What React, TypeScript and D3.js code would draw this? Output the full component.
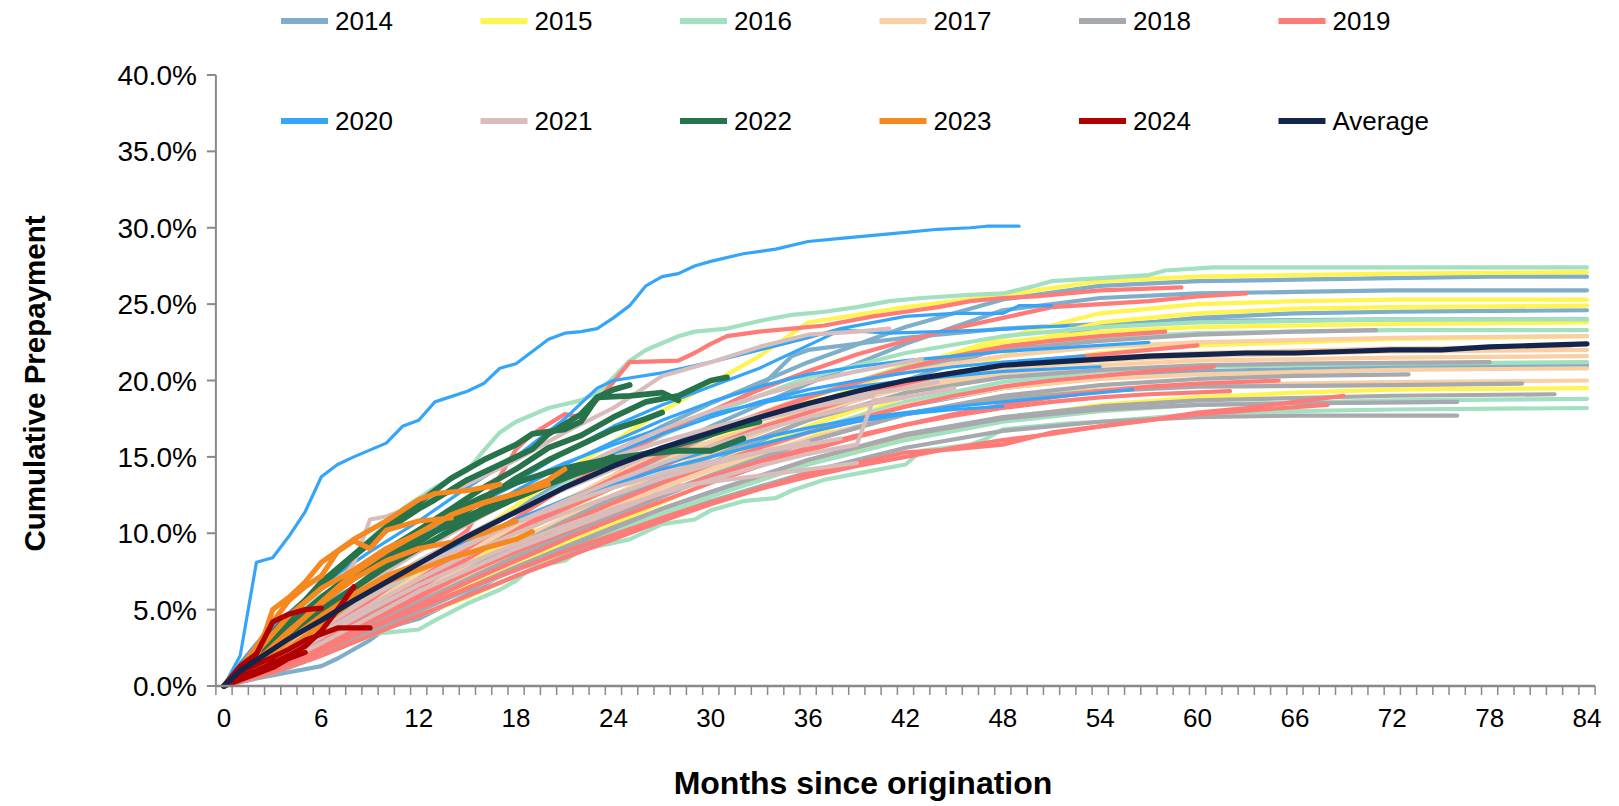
import React from "react";
import * as d3 from "d3";

type Pt = [number, number];

const MONTH_LABELS = [0, 6, 12, 18, 24, 30, 36, 42, 48, 54, 60, 66, 72, 78, 84];
const Y_TICKS = [0, 5, 10, 15, 20, 25, 30, 35, 40];
const SERIES_NAMES = ["2014", "2015", "2016", "2017", "2018", "2019", "2020", "2021", "2022", "2023", "2024", "Average"];
const SERIES_COLORS = ["#7FAEC8", "#FFF450", "#A3E0C0", "#F9CFA3", "#A6A9AE", "#FF7B77", "#34A5F8", "#D9BDBB", "#27734B", "#F5891F", "#B00000", "#13244D"];
const SERIES_WIDTHS = [4.2, 4.2, 4.2, 4.2, 4.2, 4.2, 3.2, 4.2, 5.8, 5.2, 5.2, 5.2];

const V2014: Pt[][] = [
  [[0,0],[3,1.5],[6,3.5],[9,5.5],[12,7.5],[15,9.5],[18,11.5],[21,13.5],[24,15.3],[27,17.0],[30,18.5],[36,21.2],[42,23.5],[48,25.3],[54,26.2],[60,26.5],[66,26.6],[72,26.7],[78,26.8],[84,26.8]],
  [[0,0],[3,1.2],[6,2.8],[9,4.6],[12,6.6],[15,8.4],[18,10.2],[21,12.0],[24,13.8],[27,15.5],[30,17.0],[36,19.8],[42,22.4],[48,24.6],[54,25.4],[60,25.7],[66,25.8],[72,25.9],[84,25.9]],
  [[0,0],[2,0.5],[4,0.9],[6,1.3],[7,1.8],[9,3.0],[10,3.8],[12,4.4],[15,6.0],[18,7.8],[21,9.6],[24,11.4],[27,13.0],[30,14.6],[33,16.0],[36,17.5],[42,20.0],[48,22.2],[54,23.5],[60,24.1],[66,24.4],[72,24.5],[84,24.6]],
  [[0,0],[3,1.8],[6,3.9],[9,6.0],[12,8.0],[15,9.8],[18,11.6],[21,13.4],[24,15.0],[27,16.5],[30,17.9],[33,19.5],[35,21.6],[36,22.0],[42,22.8],[48,23.4],[54,23.7],[60,23.9],[72,24.0],[84,24.0]],
  [[0,0],[3,1.4],[6,3.0],[9,4.6],[12,6.2],[15,7.8],[18,9.4],[21,10.8],[24,12.2],[27,13.5],[30,14.6],[36,16.6],[42,18.3],[48,19.5],[54,20.2],[60,20.6],[72,20.9],[84,21.0]],
];

const V2015: Pt[][] = [
  [[0,0],[3,1.6],[6,3.4],[9,5.4],[12,7.4],[15,9.6],[18,11.8],[21,14.0],[24,16.0],[27,18.0],[30,19.8],[33,21.6],[36,23.8],[42,24.8],[48,25.6],[54,26.5],[60,26.8],[66,26.9],[72,27.0],[84,27.1]],
  [[0,0],[3,1.2],[6,2.6],[9,4.2],[12,5.8],[15,7.4],[18,9.0],[21,10.7],[24,12.3],[27,13.9],[30,15.4],[36,18.3],[42,20.8],[48,22.8],[54,24.4],[60,25.0],[66,25.2],[72,25.3],[84,25.3]],
  [[0,0],[3,1.0],[6,2.2],[9,3.6],[12,5.0],[15,6.5],[18,7.9],[21,9.3],[24,10.6],[27,12.0],[30,13.4],[36,16.2],[42,19.0],[48,21.6],[51,23.0],[54,23.8],[60,24.4],[66,24.7],[72,24.8],[84,24.9]],
  [[0,0],[3,1.3],[6,2.9],[9,4.6],[12,6.3],[15,8.0],[18,9.8],[21,11.5],[24,13.0],[27,14.6],[30,16.0],[36,18.8],[42,21.0],[48,22.5],[54,23.2],[60,23.5],[72,23.7],[84,23.8]],
  [[0,0],[3,1.1],[6,2.5],[9,4.1],[12,5.6],[15,7.2],[18,8.8],[21,10.4],[24,11.8],[27,13.2],[30,14.5],[36,17.0],[42,19.2],[48,20.8],[54,21.8],[60,22.3],[72,22.7],[84,22.9]],
  [[0,0],[3,0.9],[6,2.0],[9,3.3],[12,4.6],[15,5.8],[18,7.2],[21,8.6],[24,9.9],[27,11.2],[30,12.4],[36,14.6],[42,16.2],[48,17.5],[54,18.4],[60,18.9],[66,19.2],[72,19.4],[84,19.5]],
];

const V2016: Pt[][] = [
  [[0,0],[2,1.8],[4,4.0],[6,6.3],[8,8.6],[10,10.6],[11,11.6],[13,13.0],[15,14.1],[16,15.4],[17,16.6],[18,17.3],[20,18.2],[22,18.7],[23,19.2],[24,20.2],[25,21.3],[26,22.0],[28,22.9],[29,23.2],[31,23.4],[33,23.9],[35,24.3],[37,24.5],[39,24.8],[41,25.2],[43,25.4],[46,25.6],[48,25.7],[50,26.2],[51,26.5],[54,26.7],[57,26.9],[58,27.2],[61,27.4],[72,27.4],[84,27.4]],
  [[0,0],[2,0.8],[4,1.8],[6,2.6],[8,3.3],[10,3.5],[12,3.7],[13,4.3],[15,5.4],[17,6.3],[18,6.9],[19,7.8],[21,8.2],[22,8.9],[25,9.6],[27,10.6],[29,10.9],[30,11.5],[32,12.1],[34,12.3],[35,12.8],[37,13.5],[39,13.9],[42,14.5],[43,15.4],[46,15.8],[47,16.2],[48,16.8],[50,17.0],[52,17.2],[54,17.3],[60,17.8],[66,18.0],[72,18.1],[84,18.2]],
  [[0,0],[3,1.7],[6,3.6],[9,5.6],[12,7.6],[15,9.6],[18,11.4],[21,13.2],[24,14.8],[27,16.4],[30,17.8],[36,20.2],[42,21.8],[48,22.9],[54,23.5],[60,23.8],[72,24.0],[84,24.0]],
  [[0,0],[3,1.3],[6,3.0],[9,4.8],[12,6.8],[15,8.6],[18,10.4],[21,12.0],[24,13.6],[27,15.1],[30,16.5],[36,19.0],[42,20.9],[48,22.1],[54,22.8],[60,23.1],[72,23.3],[84,23.3]],
  [[0,0],[3,1.1],[6,2.6],[9,4.2],[12,6.0],[15,7.6],[18,9.0],[21,10.5],[24,11.9],[27,13.2],[30,14.4],[36,16.7],[42,18.6],[48,19.9],[54,20.6],[60,20.9],[72,21.1],[84,21.2]],
  [[0,0],[3,1.0],[6,2.2],[9,3.5],[12,4.9],[15,6.3],[18,7.6],[21,8.9],[24,10.1],[27,11.3],[30,12.4],[36,14.5],[42,16.1],[48,17.3],[54,18.0],[60,18.4],[72,18.7],[84,18.8]],
];

const V2017: Pt[][] = [
  [[0,0],[3,1.4],[6,3.1],[9,4.9],[12,6.8],[15,8.6],[18,10.4],[21,12.1],[24,13.8],[27,15.3],[30,16.7],[36,19.0],[42,20.6],[48,21.6],[54,22.2],[60,22.5],[72,22.8],[84,22.9]],
  [[0,0],[3,1.2],[6,2.8],[9,4.5],[12,6.2],[15,7.9],[18,9.5],[21,11.0],[24,12.5],[27,14.0],[30,15.3],[36,17.8],[42,19.6],[48,20.7],[54,21.3],[60,21.6],[72,21.9],[84,22.0]],
  [[0,0],[3,1.6],[6,3.5],[9,5.4],[12,7.2],[15,9.0],[18,10.6],[21,12.2],[24,13.6],[27,14.9],[30,16.0],[36,18.0],[42,19.5],[48,20.4],[54,21.0],[60,21.3],[72,21.5],[84,21.6]],
  [[0,0],[3,1.0],[6,2.4],[9,4.0],[12,5.6],[15,7.2],[18,8.7],[21,10.2],[24,11.6],[27,13.0],[30,14.3],[36,16.6],[42,18.4],[48,19.5],[54,20.1],[60,20.4],[72,20.7],[84,20.8]],
  [[0,0],[3,1.3],[6,2.9],[9,4.5],[12,6.0],[15,7.5],[18,9.0],[21,10.4],[24,11.7],[27,13.0],[30,14.1],[36,16.2],[42,17.8],[48,18.8],[54,19.4],[60,19.7],[72,19.9],[84,20.0]],
  [[0,0],[3,1.5],[6,3.3],[9,5.1],[12,6.9],[15,8.5],[18,10.1],[21,11.6],[24,13.0],[27,14.4],[30,15.6],[36,17.9],[42,19.8],[48,20.9],[54,21.5],[60,21.8],[72,22.1],[83,22.2]],
];

const V2018: Pt[][] = [
  [[0,0],[3,1.3],[6,3.0],[9,4.8],[12,6.6],[15,8.4],[18,10.2],[21,11.9],[24,13.5],[27,15.0],[30,16.4],[36,18.9],[42,20.8],[48,22.0],[54,22.6],[60,23.0],[66,23.2],[71,23.3]],
  [[0,0],[3,1.0],[6,2.3],[9,3.8],[12,5.3],[15,6.8],[18,8.3],[21,9.7],[24,11.1],[27,12.4],[30,13.7],[36,16.0],[42,17.8],[48,19.0],[54,19.7],[60,20.1],[66,20.3],[73,20.4]],
  [[0,0],[3,0.9],[6,2.1],[9,3.5],[12,4.9],[15,6.3],[18,7.7],[21,9.0],[24,10.3],[27,11.6],[30,12.7],[36,14.8],[42,16.4],[48,17.5],[54,18.1],[60,18.4],[66,18.5],[76,18.6]],
  [[0,0],[3,0.8],[6,2.0],[9,3.3],[12,4.6],[15,5.9],[18,7.2],[21,8.5],[24,9.8],[27,11.0],[30,12.1],[36,14.0],[42,15.6],[48,16.7],[54,17.3],[60,17.6],[66,17.7],[76,17.7]],
  [[0,0],[3,1.2],[6,2.7],[9,4.3],[12,6.0],[15,7.6],[18,9.2],[21,10.8],[24,12.3],[27,13.7],[30,15.0],[36,17.4],[42,19.2],[48,20.2],[54,20.7],[60,21.0],[66,21.1],[78,21.2]],
  [[0,0],[3,1.1],[6,2.5],[9,4.0],[12,5.5],[15,7.0],[18,8.5],[21,9.9],[24,11.3],[27,12.6],[30,13.8],[36,16.0],[42,17.8],[48,18.8],[54,19.3],[60,19.6],[72,19.7],[80,19.8]],
  [[0,0],[3,0.9],[6,2.2],[9,3.6],[12,5.0],[15,6.4],[18,7.8],[21,9.1],[24,10.4],[27,11.6],[30,12.7],[36,14.8],[42,16.5],[48,17.6],[54,18.3],[60,18.7],[72,19.0],[82,19.1]],
];

const V2019: Pt[][] = [
  [[0,0],[3,1.8],[6,3.6],[9,5.6],[12,7.8],[15,10.2],[18,15.5],[19,16.5],[21,17.8],[22,17.6],[23,18.7],[24,19.9],[25,21.2],[28,21.3],[29,21.8],[30,22.4],[31,22.9],[33,23.2],[35,23.4],[37,23.6],[40,24.2],[42,24.5],[44,24.8],[46,25.2],[48,25.4],[50,25.5],[52,25.7],[54,25.9],[59,26.1]],
  [[0,0],[3,1.5],[6,3.2],[9,5.0],[12,7.0],[15,9.0],[18,11.0],[21,13.0],[24,14.8],[27,16.5],[30,18.0],[33,19.4],[36,20.6],[39,21.7],[42,22.6],[45,23.4],[48,24.1],[51,24.8],[54,25.0],[57,25.2],[60,25.5],[63,25.7]],
  [[0,0],[3,1.3],[6,2.9],[9,4.6],[12,6.4],[15,8.3],[18,10.2],[21,12.0],[24,13.6],[27,15.1],[30,16.5],[33,17.8],[36,18.9],[39,19.9],[42,20.8],[45,21.6],[48,22.2],[51,22.6],[54,22.9],[58,23.2]],
  [[0,0],[3,1.6],[6,3.4],[9,5.1],[12,6.8],[15,8.5],[18,10.1],[21,11.6],[24,13.0],[27,14.4],[30,15.7],[33,16.9],[36,17.9],[39,18.9],[42,19.8],[45,20.5],[48,21.0],[51,21.4],[54,21.7],[57,22.0],[60,22.3]],
  [[0,0],[3,1.2],[6,2.6],[9,4.2],[12,5.8],[15,7.4],[18,9.0],[21,10.6],[24,12.0],[27,13.3],[30,14.5],[33,15.6],[36,16.6],[39,17.5],[42,18.3],[45,19.0],[48,19.6],[51,20.0],[54,20.3],[57,20.6],[61,20.9]],
  [[0,0],[3,1.0],[6,2.3],[9,3.8],[12,5.3],[15,6.8],[18,8.2],[21,9.6],[24,10.9],[27,12.1],[30,13.3],[33,14.4],[36,15.4],[39,16.3],[42,17.1],[45,17.8],[48,18.4],[51,18.9],[54,19.3],[57,19.6],[60,19.8],[65,20.0]],
  [[0,0],[3,0.9],[6,2.0],[9,3.3],[12,4.6],[15,5.9],[18,7.2],[21,8.4],[24,9.6],[27,10.8],[30,11.9],[33,12.9],[36,13.9],[39,14.6],[42,15.3],[45,15.5],[48,15.8],[51,16.6],[54,17.0],[57,17.4],[60,17.9],[63,18.2],[66,18.6],[69,19.0]],
  [[0,0],[3,1.1],[6,2.4],[9,3.8],[12,5.1],[15,6.4],[18,7.6],[21,8.8],[24,9.9],[27,11.0],[30,12.0],[33,12.9],[36,13.7],[39,14.4],[42,15.0],[45,15.6],[48,16.1],[51,16.5],[54,17.0],[57,17.4],[60,17.8],[64,18.1],[68,18.4]],
  [[0,0],[3,1.4],[6,3.0],[9,4.6],[12,6.0],[15,7.4],[18,8.8],[21,10.1],[24,11.4],[27,12.6],[30,13.7],[33,14.7],[36,15.6],[39,16.4],[42,17.1],[45,17.7],[48,18.2],[51,18.6],[54,18.9],[57,19.1],[62,19.3]],
];

const V2020: Pt[][] = [
  [[0,0],[1,2.0],[2,8.1],[3,8.4],[4,9.8],[5,11.4],[6,13.7],[7,14.5],[8,15.0],[10,15.9],[11,17.0],[12,17.4],[13,18.6],[15,19.3],[16,19.8],[17,20.8],[18,21.1],[20,22.7],[21,23.1],[22,23.2],[23,23.4],[24,24.1],[25,24.9],[26,26.2],[27,26.8],[28,27.0],[29,27.5],[30,27.8],[32,28.3],[34,28.6],[36,29.1],[38,29.3],[40,29.5],[42,29.7],[44,29.9],[46,30.0],[47,30.1],[49,30.1]],
  [[0,0],[1,1.5],[2,2.8],[3,3.9],[6,6.6],[9,8.8],[12,10.8],[15,13.0],[18,15.0],[21,17.5],[23,19.5],[24,20.0],[27,20.5],[30,21.2],[33,22.0],[36,22.8],[38,23.4],[42,24.2],[45,24.4],[48,24.4],[49,24.9],[51,24.9]],
  [[0,0],[3,3.0],[6,5.6],[9,7.6],[12,9.5],[15,11.5],[18,13.4],[21,15.3],[24,17.0],[27,18.4],[30,19.6],[33,20.8],[36,22.3],[38,23.3],[41,23.1],[44,23.2],[47,23.3],[52,23.6]],
  [[0,0],[3,2.2],[6,4.8],[9,7.0],[12,9.0],[15,11.0],[18,12.8],[21,14.5],[24,16.0],[27,17.4],[30,18.6],[33,19.6],[36,20.4],[39,20.9],[42,21.3],[45,21.6],[48,21.9],[51,22.1],[54,22.3],[57,22.5]],
  [[0,0],[3,2.6],[6,5.2],[9,7.2],[12,9.0],[15,10.7],[18,12.3],[21,13.8],[24,15.2],[27,16.5],[30,17.6],[33,18.6],[36,19.4],[39,20.0],[42,20.5],[45,20.9],[48,21.2],[53,21.6]],
  [[0,0],[3,2.0],[6,4.2],[9,6.1],[12,7.8],[15,9.4],[18,10.9],[21,12.2],[24,13.4],[27,14.5],[30,15.4],[33,16.2],[36,16.9],[39,17.5],[42,17.9],[45,18.3],[48,18.6],[52,19.0],[56,19.4]],
  [[0,0],[3,2.4],[6,4.6],[9,6.4],[12,8.0],[15,9.5],[18,10.9],[21,12.1],[24,13.2],[27,14.2],[30,15.0],[33,15.8],[36,16.6],[39,17.3],[42,17.8],[45,18.1],[48,18.3]],
  [[0,0],[3,2.8],[6,5.8],[9,8.0],[12,9.8],[15,11.6],[18,13.2],[21,14.6],[24,15.8],[27,16.9],[30,17.8],[33,18.5],[36,19.1],[39,19.6],[42,20.0],[45,20.3],[48,20.6],[54,20.9]],
];

const V2021: Pt[][] = [
  [[0,0],[3,2.5],[6,5.5],[8,8.0],[9,10.9],[10,11.1],[12,11.9],[15,13.2],[18,14.8],[21,16.6],[24,18.2],[27,20.3],[30,21.2],[33,22.2],[36,23.0],[39,23.2],[41,23.4]],
  [[0,0],[3,2.0],[6,4.5],[9,6.8],[12,8.8],[15,10.6],[18,12.3],[21,13.9],[24,15.4],[27,16.8],[30,18.0],[33,19.0],[36,19.9],[39,20.6],[41,21.0],[43,21.4]],
  [[0,0],[3,1.6],[6,3.8],[9,5.8],[12,7.6],[15,9.2],[18,10.7],[21,12.1],[24,13.4],[27,14.6],[30,15.7],[33,16.7],[36,17.6],[39,18.3],[42,18.9],[45,19.5]],
  [[0,0],[3,1.4],[6,3.2],[9,5.0],[12,6.6],[15,8.0],[18,9.3],[21,10.5],[24,11.6],[27,12.6],[30,13.5],[33,14.4],[36,15.2],[39,15.8],[40,18.7],[42,18.9]],
  [[0,0],[3,1.2],[6,2.8],[9,4.5],[12,6.2],[15,7.6],[18,9.0],[21,10.2],[24,11.4],[28,13.1],[34,13.9],[39,14.6]],
  [[0,0],[3,1.8],[6,4.0],[9,6.0],[12,7.8],[15,9.3],[18,10.7],[21,11.9],[24,13.0],[27,13.9],[30,14.7],[33,15.3],[36,15.8],[38,16.2]],
  [[0,0],[3,2.2],[6,4.8],[9,7.0],[12,9.0],[15,10.8],[18,12.4],[21,13.8],[24,15.0],[27,16.0],[30,16.9],[33,17.7],[36,18.4],[39,19.0],[42,19.5],[44,19.9]],
  [[0,0],[3,1.5],[6,3.5],[9,5.3],[12,7.0],[15,8.6],[18,10.0],[21,11.3],[24,12.5],[27,13.6],[30,14.5],[33,15.3],[36,16.0]],
  [[0,0],[3,1.9],[6,4.2],[9,6.3],[12,8.2],[15,9.9],[18,11.5],[21,12.9],[24,14.2],[27,15.4],[30,16.5],[33,17.4],[36,18.2],[40,19.0]],
];

const V2022: Pt[][] = [
  [[0,0],[1,1.2],[2,2.3],[3,3.5],[4,4.4],[6,6.8],[8,8.6],[10,10.4],[12,12.0],[14,13.6],[16,14.8],[18,15.8],[19,16.5],[21,16.8],[22,17.3],[23,18.9],[24,19.4],[25,19.7]],
  [[0,0],[2,2.0],[4,3.8],[6,5.6],[8,7.3],[10,8.8],[12,10.2],[14,11.6],[16,13.0],[18,14.2],[20,15.6],[22,16.4],[24,17.6],[26,18.6],[28,19.0],[30,20.0],[31,20.2]],
  [[0,0],[2,1.8],[4,3.4],[6,5.0],[8,6.4],[10,7.8],[12,9.0],[14,10.2],[16,11.3],[18,12.3],[20,13.2],[22,14.0],[24,14.7],[27,15.5],[29,16.1],[31,16.8],[33,17.3]],
  [[0,0],[2,2.2],[4,4.0],[6,5.8],[8,7.4],[10,8.9],[12,10.2],[14,11.4],[16,12.4],[18,13.3],[20,14.0],[22,14.5],[24,14.9],[26,15.2],[28,15.4],[30,15.4],[32,16.2]],
  [[0,0],[2,2.4],[4,4.6],[6,6.6],[8,8.5],[10,10.2],[12,11.6],[13,12.2],[15,13.5],[17,14.5],[19,15.5],[20,16.5],[22,17.8],[23,18.9],[25,19.0],[27,19.2],[28,18.7]],
  [[0,0],[2,1.6],[4,3.2],[6,4.8],[8,6.4],[10,8.0],[12,9.4],[14,10.8],[16,12.2],[18,13.6],[20,14.8],[22,15.8],[24,16.8],[26,17.5],[27,17.9]],
  [[0,0],[2,2.0],[4,3.9],[6,5.7],[8,7.2],[10,8.5],[12,9.6],[14,10.6],[16,11.6],[18,12.6],[20,13.4],[22,14.3],[24,15.0]],
];

const V2023: Pt[][] = [
  [[0,0],[1,0.8],[2,1.8],[3,5.0],[4,5.8],[5,6.8],[6,8.1],[8,9.6],[10,10.8],[12,12.2],[13,12.6],[15,12.8],[17,13.2]],
  [[0,0],[1,1.0],[2,2.2],[3,3.4],[4,4.6],[6,6.4],[8,7.6],[10,9.0],[12,10.0],[14,11.2],[16,12.0],[18,12.6],[20,13.5],[21,14.2]],
  [[0,0],[1,0.6],[2,1.4],[3,2.4],[4,3.5],[6,5.5],[8,7.4],[10,8.8],[12,10.0],[14,11.2],[16,12.0],[18,12.6],[20,13.2]],
  [[0,0],[2,1.0],[4,2.5],[6,4.0],[8,5.6],[10,6.8],[12,7.6],[14,8.4],[16,9.0],[18,9.6],[19,10.1]],
  [[0,0],[2,1.6],[4,3.6],[6,5.4],[8,7.0],[10,8.2],[12,9.0],[14,9.4],[16,10.0],[18,10.8]],
  [[0,0],[1,1.2],[2,2.6],[3,4.2],[4,5.6],[5,6.5],[6,7.2],[7,8.8],[8,9.5],[9,9.0],[10,10.2],[12,10.8],[14,11.0]],
  [[0,0],[2,1.2],[4,3.0],[6,4.6],[8,6.0],[10,7.2],[12,8.0]],
];

const V2024: Pt[][] = [
  [[0,0],[1,1.3],[2,2.1],[3,4.2],[4,4.7],[5,5.0],[6,5.1]],
  [[0,0],[1,0.6],[2,1.0],[3,1.5],[4,2.0],[5,2.6],[6,3.6],[7,5.0],[8,6.5]],
  [[0,0],[1,0.9],[2,1.4],[3,1.9],[4,2.4],[5,3.0],[6,3.4],[7,3.8],[8,3.8],[9,3.8]],
  [[0,0],[1,0.4],[2,0.8],[3,1.2],[4,1.8],[5,2.2]],
  [[0,0],[1,0.9],[2,1.5],[3,1.8]],
];

const AVERAGE: Pt[] = [[0,0],[1,1.0],[2,1.7],[3,2.4],[4,3.1],[5,3.7],[6,4.3],[8,5.6],[10,6.8],[12,8.0],[15,9.8],[18,11.4],[21,13.0],[24,14.4],[27,15.6],[30,16.6],[33,17.6],[36,18.5],[39,19.3],[42,20.0],[45,20.5],[48,21.0],[51,21.2],[54,21.4],[57,21.6],[60,21.7],[63,21.8],[66,21.8],[69,21.9],[72,22.0],[75,22.0],[78,22.2],[81,22.3],[84,22.4]];

const YEAR_DATA: Pt[][][] = [V2014, V2015, V2016, V2017, V2018, V2019, V2020, V2021, V2022, V2023, V2024];

const W = 1619;
const H = 806;
const FONT = "Liberation Sans, Arial, Helvetica, sans-serif";

export default function App() {
  const x = d3.scaleLinear().domain([0, 84]).range([224, 1587]);
  const y = d3.scaleLinear().domain([0, 40]).range([686, 75]);
  const line = d3.line<Pt>().x((d) => x(d[0])).y((d) => y(d[1]));
  const catW = (x(84) - x(0)) / 84;
  const axisLeft = x(0) - catW / 2;
  const axisRight = x(84) + catW / 2;
  const boundaries = d3.range(0, 86).map((k) => axisLeft + k * catW);

  const legendX0 = 281;
  const legendStep = 199.5;
  const legendRows = [21, 121];

  return (
    <svg width={W} height={H} style={{ display: "block", position: "absolute", left: 0, top: 0, background: "#fff" }} fontFamily={FONT}>
      <rect x={0} y={0} width={W} height={H} fill="#fff" />
      {/* y axis */}
      <line x1={axisLeft} x2={axisLeft} y1={y(40)} y2={y(0)} stroke="#898989" strokeWidth={2} />
      {Y_TICKS.map((t) => (
        <g key={"yt" + t}>
          <line x1={axisLeft - 9} x2={axisLeft} y1={y(t)} y2={y(t)} stroke="#898989" strokeWidth={2} />
          <text x={axisLeft - 19} y={y(t)} dy="0.36em" textAnchor="end" fontSize={28} fill="#000">
            {t.toFixed(1) + "%"}
          </text>
        </g>
      ))}
      {/* series */}
      {YEAR_DATA.map((lines, yi) => (
        <g key={"yr" + yi}>
          {lines.map((pts, li) => (
            <path key={li} d={line(pts) || ""} fill="none" stroke={SERIES_COLORS[yi]} strokeWidth={SERIES_WIDTHS[yi]} strokeLinejoin="round" strokeLinecap="round" />
          ))}
        </g>
      ))}
      <path d={line(AVERAGE) || ""} fill="none" stroke={SERIES_COLORS[11]} strokeWidth={SERIES_WIDTHS[11]} strokeLinejoin="round" strokeLinecap="round" />
      {/* x axis */}
      <line x1={axisLeft} x2={axisRight} y1={y(0)} y2={y(0)} stroke="#898989" strokeWidth={2.5} />
      {boundaries.map((bx, i) => (
        <line key={"xt" + i} x1={bx} x2={bx} y1={y(0)} y2={y(0) + 9} stroke="#898989" strokeWidth={1.5} />
      ))}
      {MONTH_LABELS.map((m) => (
        <text key={"xl" + m} x={x(m)} y={y(0) + 41} textAnchor="middle" fontSize={26} fill="#000">
          {m}
        </text>
      ))}
      <text x={863} y={794} textAnchor="middle" fontSize={32} fontWeight="bold" fill="#000">
        Months since origination
      </text>
      <text transform={`translate(45, ${(y(0) + y(40)) / 2 + 3}) rotate(-90)`} textAnchor="middle" fontSize={29.5} fontWeight="bold" fill="#000">
        Cumulative Prepayment
      </text>
      {/* legend */}
      {SERIES_NAMES.map((name, i) => {
        const row = Math.floor(i / 6);
        const col = i % 6;
        const lx = legendX0 + col * legendStep;
        const ly = legendRows[row];
        return (
          <g key={"lg" + i}>
            <line x1={lx} x2={lx + 47} y1={ly} y2={ly} stroke={SERIES_COLORS[i]} strokeWidth={6} strokeLinecap="butt" />
            <text x={lx + 54} y={ly} dy="0.36em" fontSize={26} fill="#000">
              {name}
            </text>
          </g>
        );
      })}
    </svg>
  );
}
